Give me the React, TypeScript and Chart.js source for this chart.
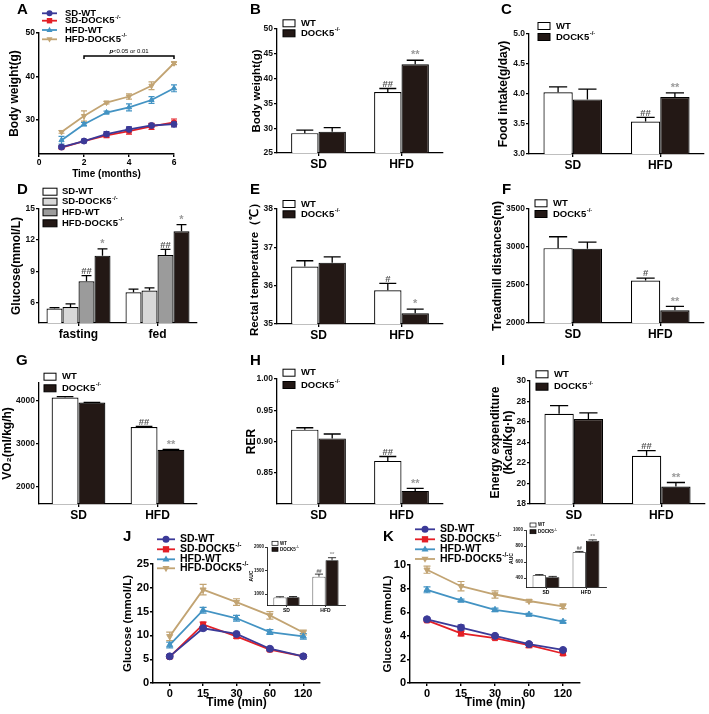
import React, { useEffect, useRef } from "react";
import { Chart, registerables } from "chart.js";

Chart.register(...registerables);

const FONT = "'Liberation Sans', Arial, Helvetica, sans-serif";
Chart.defaults.font.family = FONT;
Chart.defaults.color = "#000";

// ===================== DATA =====================
const groupNames = ["SD-WT", "SD-DOCK5^-/-", "HFD-WT", "HFD-DOCK5^-/-"];
const genotypeNames = ["WT", "DOCK5^-/-"];
const dietLabels = ["SD", "HFD"];
const stateLabels = ["fasting", "fed"];

// A: body weight over time
const aMonths = [1, 2, 3, 4, 5, 6];
const aSdWt = [23.6, 25.0, 26.6, 27.7, 28.6, 28.9];
const aSdWtErr = [0.3, 0.4, 0.6, 0.6, 0.4, 0.6];
const aSdKo = [23.5, 25.0, 26.3, 27.3, 28.4, 29.3];
const aSdKoErr = [0.3, 0.3, 0.5, 0.7, 0.7, 0.8];
const aHfdWt = [25.2, 28.9, 31.6, 32.8, 34.5, 37.2];
const aHfdWtErr = [0.9, 0.4, 0.3, 0.8, 0.8, 0.8];
const aHfdKo = [27.1, 30.8, 33.9, 35.3, 37.8, 43.0];
const aHfdKoErr = [0.3, 1.2, 0.3, 0.6, 0.9, 0.3];
const aYTicks = [30, 40, 50];
const aSigFrom = 2;
const aSigTo = 6;
const aSigLevel = 44.7;

// B: body weight
const bWt = [29.0, 37.3];
const bWtErr = [0.6, 0.7];
const bKo = [29.3, 42.9];
const bKoErr = [0.8, 0.8];
const bTicks = [25, 30, 35, 40, 45, 50];

// C: food intake
const cWt = [4.03, 3.54];
const cWtErr = [0.09, 0.07];
const cKo = [3.91, 3.95];
const cKoErr = [0.17, 0.07];
const cTicks = [3.0, 3.5, 4.0, 4.5, 5.0];

// D: glucose
const dSdWt = [5.4, 6.97];
const dSdWtErr = [0.08, 0.3];
const dSdKo = [5.55, 7.13];
const dSdKoErr = [0.3, 0.26];
const dHfdWt = [8.03, 10.55];
const dHfdWtErr = [0.55, 0.55];
const dHfdKo = [10.5, 12.85];
const dHfdKoErr = [0.65, 0.65];
const dTicks = [6, 9, 12, 15];

// E: rectal temperature
const eWt = [36.5, 35.88];
const eWtErr = [0.15, 0.18];
const eKo = [36.6, 35.28];
const eKoErr = [0.15, 0.11];
const eTicks = [35, 36, 37, 38];

// F: treadmill
const fWt = [2985, 2560];
const fWtErr = [150, 30];
const fKo = [2978, 2167];
const fKoErr = [85, 52];
const fTicks = [2000, 2500, 3000, 3500];

// G: VO2
const gWt = [4062, 3383];
const gWtErr = [25, 10];
const gKo = [3947, 2855];
const gKoErr = [6, 6];
const gTicks = [2000, 3000, 4000];

// H: RER
const hWt = [0.919, 0.869];
const hWtErr = [0.003, 0.007];
const hKo = [0.905, 0.821];
const hKoErr = [0.007, 0.004];
const hTicks = [0.85, 0.9, 0.95, 1.0];

// I: energy expenditure
const iWt = [26.8, 22.7];
const iWtErr = [0.8, 0.5];
const iKo = [26.3, 19.7];
const iKoErr = [0.6, 0.4];
const iTicks = [18, 20, 22, 24, 26, 28, 30];

// J: GTT
const timeLabels = ["0", "15", "30", "60", "120"];
const jSdWt = [5.6, 11.5, 10.3, 7.2, 5.6];
const jSdWtErr = [0.3, 0.4, 0.3, 0.3, 0.3];
const jSdKo = [5.5, 12.3, 9.8, 7.0, 5.6];
const jSdKoErr = [0.3, 0.5, 0.4, 0.3, 0.3];
const jHfdWt = [8.0, 15.3, 13.6, 10.7, 9.8];
const jHfdWtErr = [0.6, 0.6, 0.6, 0.5, 0.6];
const jHfdKo = [9.8, 19.6, 17.0, 14.2, 10.6];
const jHfdKoErr = [0.9, 1.1, 0.7, 0.8, 0.5];
const jTicks = [0, 5, 10, 15, 20, 25];
// J inset AUC
const jiWt = [930, 1370];
const jiWtErr = [15, 55];
const jiKo = [935, 1718];
const jiKoErr = [15, 55];
const jiTicks = [1000, 1500, 2000];

// K: ITT
const kSdWt = [5.4, 4.7, 4.0, 3.3, 2.8];
const kSdWtErr = [0.1, 0.2, 0.1, 0.1, 0.1];
const kSdKo = [5.3, 4.2, 3.8, 3.2, 2.5];
const kSdKoErr = [0.1, 0.2, 0.1, 0.2, 0.15];
const kHfdWt = [7.9, 7.0, 6.2, 5.8, 5.2];
const kHfdWtErr = [0.25, 0.1, 0.15, 0.1, 0.1];
const kHfdKo = [9.6, 8.2, 7.5, 6.95, 6.5];
const kHfdKoErr = [0.3, 0.4, 0.3, 0.1, 0.2];
const kTicks = [0, 2, 4, 6, 8, 10];
// K inset AUC
const kiWt = [437, 723];
const kiWtErr = [8, 10];
const kiKo = [412, 867];
const kiKoErr = [10, 10];
const kiTicks = [400, 600, 800, 1000];

// ===================== STYLE =====================
const BLACK = "#231815";
const WHITE = "#ffffff";
const LIGHT = "#d8d8d8";
const GRAY = "#9b9b9b";
const C_SDWT = "#3b3a98";
const C_SDKO = "#e41f26";
const C_HFDWT = "#4393c3";
const C_HFDKO = "#c2a473";
const HASH = "#555555";
const STAR = "#9a9a9a";

type Box = { l: number; t: number; w: number; h: number };
type Area = [number, number, number, number];

function layoutFor(box: Box, area: Area) {
  const [x0, y0, x1, y1] = area;
  return {
    padding: { left: 0, top: y0 - box.t, right: box.l + box.w - x1, bottom: 0 },
    yW: x0 - box.l,
    xH: box.t + box.h - y1,
  };
}

function rich(ctx: any, text: string, x: number, y: number, size: number, color: string, align = "left") {
  const [main, sup] = text.split("^");
  ctx.save();
  ctx.fillStyle = color;
  ctx.textBaseline = "middle";
  ctx.textAlign = "left";
  ctx.font = `bold ${size}px ${FONT}`;
  const w1 = ctx.measureText(main).width;
  ctx.font = `bold ${size * 0.62}px ${FONT}`;
  const w2 = sup ? ctx.measureText(sup).width : 0;
  const sx = align === "center" ? x - (w1 + w2) / 2 : x;
  ctx.font = `bold ${size}px ${FONT}`;
  ctx.fillText(main, sx, y);
  if (sup) {
    ctx.font = `bold ${size * 0.62}px ${FONT}`;
    ctx.fillText(sup, sx + w1 + 0.5, y - size * 0.38);
  }
  ctx.restore();
}

function marker(ctx: any, style: string, x: number, y: number, r: number, color: string) {
  ctx.save();
  ctx.fillStyle = color;
  ctx.beginPath();
  if (style === "circle") ctx.arc(x, y, r, 0, Math.PI * 2);
  else if (style === "rect") ctx.rect(x - r * 0.9, y - r * 0.9, r * 1.8, r * 1.8);
  else if (style === "triangle") {
    ctx.moveTo(x, y - r * 1.1);
    ctx.lineTo(x + r, y + r * 0.65);
    ctx.lineTo(x - r, y + r * 0.65);
    ctx.closePath();
  } else {
    ctx.moveTo(x, y + r * 1.1);
    ctx.lineTo(x + r, y - r * 0.65);
    ctx.lineTo(x - r, y - r * 0.65);
    ctx.closePath();
  }
  ctx.fill();
  ctx.restore();
}

type LegendItem = { name: string; color: string; style?: string };
type Legend = {
  kind: string;
  x: number;
  w: number;
  h?: number;
  rows: number[];
  textX: number;
  size: number;
  items: LegendItem[];
  r?: number;
  bw?: number;
};
type Note = { ds: number; i: number; t: string; c: string; s: number };
type Decor = {
  box: Box;
  letter?: { t: string; x: number; y: number; s?: number };
  legend?: Legend;
  errs: number[][];
  lineErr?: boolean;
  cap?: number;
  capRatio?: number;
  errW?: number;
  notes?: Note[];
  extra?: (chart: any) => void;
};

function valOf(v: any) {
  return typeof v === "number" ? v : v.y;
}

function drawErr(chart: any, o: Decor) {
  const ctx = chart.ctx;
  const ys = chart.scales.y;
  o.errs.forEach((errs, di) => {
    if (!errs) return;
    const meta = chart.getDatasetMeta(di);
    const ds = chart.data.datasets[di];
    meta.data.forEach((el: any, i: number) => {
      const v = valOf(ds.data[i]);
      const e = errs[i];
      if (!e) return;
      const yTop = ys.getPixelForValue(v + e);
      const yBot = o.lineErr ? ys.getPixelForValue(v - e) : el.y;
      const cap = o.lineErr ? o.cap || 6 : el.width * (o.capRatio || 0.6);
      ctx.save();
      ctx.strokeStyle = o.lineErr ? ds.borderColor : "#000";
      ctx.lineWidth = o.errW || 1.3;
      ctx.beginPath();
      ctx.moveTo(el.x, yBot);
      ctx.lineTo(el.x, yTop);
      ctx.moveTo(el.x - cap / 2, yTop);
      ctx.lineTo(el.x + cap / 2, yTop);
      if (o.lineErr) {
        ctx.moveTo(el.x - cap / 2, yBot);
        ctx.lineTo(el.x + cap / 2, yBot);
      }
      ctx.stroke();
      ctx.restore();
    });
  });
}

function makeDecor(o: Decor) {
  return {
    id: "decor",
    beforeDatasetsDraw(chart: any) {
      if (o.lineErr) drawErr(chart, o);
    },
    afterDatasetsDraw(chart: any) {
      const ctx = chart.ctx;
      if (!o.lineErr) drawErr(chart, o);
      const { l, t } = o.box;
      if (o.notes) {
        const ys = chart.scales.y;
        o.notes.forEach((n) => {
          const el = chart.getDatasetMeta(n.ds).data[n.i];
          const v = valOf(chart.data.datasets[n.ds].data[n.i]);
          const e = (o.errs[n.ds] || [])[n.i] || 0;
          const y = ys.getPixelForValue(v + e) - 1;
          ctx.save();
          ctx.fillStyle = n.c;
          ctx.font = `bold ${n.s}px ${FONT}`;
          ctx.textAlign = "center";
          ctx.textBaseline = "bottom";
          ctx.fillText(n.t, el.x, y + n.s * 0.15);
          ctx.restore();
        });
      }
      if (o.legend) {
        const L = o.legend;
        L.items.forEach((it, k) => {
          const y = L.rows[k] - t;
          const x = L.x - l;
          ctx.save();
          if (L.kind === "box") {
            const h = L.h || 7;
            ctx.fillStyle = it.color;
            ctx.fillRect(x, y - h / 2, L.w, h);
            ctx.strokeStyle = "#000";
            ctx.lineWidth = L.bw || 1;
            ctx.strokeRect(x, y - h / 2, L.w, h);
          } else {
            ctx.strokeStyle = it.color;
            ctx.lineWidth = 1.8;
            ctx.beginPath();
            ctx.moveTo(x, y);
            ctx.lineTo(x + L.w, y);
            ctx.stroke();
            marker(ctx, it.style || "circle", x + L.w / 2, y, L.r || 3.2, it.color);
          }
          ctx.restore();
          rich(ctx, it.name, L.textX - l, y, L.size, "#000");
        });
      }
      if (o.letter) {
        ctx.save();
        ctx.fillStyle = "#000";
        ctx.font = `bold ${o.letter.s || 15}px ${FONT}`;
        ctx.textAlign = "left";
        ctx.textBaseline = "middle";
        ctx.fillText(o.letter.t, o.letter.x - l, o.letter.y - t);
        ctx.restore();
      }
      if (o.extra) o.extra(chart);
    },
  };
}

function axisCommon(lw: number, tl: number) {
  return {
    border: { display: true, color: "#000", width: lw },
    grid: {
      display: true,
      drawOnChartArea: false,
      drawTicks: true,
      tickLength: tl,
      color: "#000",
      lineWidth: lw,
    },
  };
}

type Series = { name: string; data: number[]; err: number[]; fill: string };
type BarP = {
  box: Box;
  area: Area;
  labels: string[];
  series: Series[];
  min: number;
  max: number;
  ticks: number[];
  fmt?: (v: number) => string;
  yTitle: any;
  titleX: number;
  titleFont?: number;
  titleLH?: number;
  tickFont?: number;
  catFont?: number;
  catPct: number;
  legend: Legend;
  letter?: { t: string; x: number; y: number; s?: number };
  notes: Note[];
  bw?: number;
  lw?: number;
  tl?: number;
  capRatio?: number;
  errW?: number;
};

function makeBar(p: BarP) {
  const L = layoutFor(p.box, p.area);
  const tf = p.titleFont || 12;
  const tlh = p.titleLH || 1.2;
  const lw = p.lw || 1.3;
  const tl = p.tl || 3;
  const ac = axisCommon(lw, tl);
  return {
    type: "bar",
    data: {
      labels: p.labels,
      datasets: p.series.map((s) => ({
        label: s.name,
        data: s.data,
        backgroundColor: s.fill,
        borderColor: "#000",
        borderWidth: p.bw || 1.2,
        barPercentage: 1,
        categoryPercentage: p.catPct,
      })),
    },
    options: {
      responsive: false,
      animation: false,
      devicePixelRatio: 1,
      layout: { padding: L.padding },
      plugins: { legend: { display: false }, tooltip: { enabled: false } },
      scales: {
        x: {
          type: "category",
          offset: true,
          afterFit: (s: any) => {
            s.height = L.xH;
          },
          border: ac.border,
          grid: { ...ac.grid, offset: false },
          ticks: {
            font: { size: p.catFont || 12, weight: "bold" },
            color: "#000",
            padding: 1,
            maxRotation: 0,
            autoSkip: false,
          },
        },
        y: {
          type: "linear",
          min: p.min,
          max: p.max,
          afterBuildTicks: (s: any) => {
            s.ticks = p.ticks.map((v) => ({ value: v }));
          },
          afterFit: (s: any) => {
            s.width = L.yW;
          },
          border: ac.border,
          grid: ac.grid,
          ticks: {
            font: { size: p.tickFont || 8.5, weight: "bold" },
            color: "#111",
            padding: 1,
            callback: (v: any) => (p.fmt ? p.fmt(Number(v)) : String(v)),
          },
          title: {
            display: true,
            text: p.yTitle,
            font: { size: tf, weight: "bold", lineHeight: tlh },
            color: "#000",
            padding: { top: p.titleX - p.box.l - (tf * tlh) / 2, bottom: 0 },
          },
        },
      },
    },
    plugins: [
      makeDecor({
        box: p.box,
        letter: p.letter,
        legend: p.legend,
        errs: p.series.map((s) => s.err),
        capRatio: p.capRatio || 0.62,
        errW: p.errW || 1.3,
        notes: p.notes,
      }),
    ],
  };
}

type LSeries = { name: string; data: number[]; err: number[]; color: string; style: string };
type LineP = {
  box: Box;
  area: Area;
  linear: boolean;
  xs?: number[];
  labels?: string[];
  xMin?: number;
  xMax?: number;
  xStep?: number;
  series: LSeries[];
  min: number;
  max: number;
  ticks: number[];
  yTitle: string;
  titleX: number;
  titleFont: number;
  xTitle: string;
  xTitleY: number;
  xTitleFont: number;
  tickFont: number;
  legend: Legend;
  letter: { t: string; x: number; y: number; s?: number };
  pr: number;
  lw: number;
  cap: number;
  tl: number;
  extra?: (chart: any) => void;
};

function makeLine(p: LineP) {
  const L = layoutFor(p.box, p.area);
  const ac = axisCommon(1.4, p.tl);
  const xScale: any = p.linear
    ? {
        type: "linear",
        min: p.xMin,
        max: p.xMax,
        ticks: { stepSize: p.xStep, font: { size: p.tickFont, weight: "bold" }, color: "#000", padding: 1 },
        grid: ac.grid,
      }
    : {
        type: "category",
        offset: true,
        grid: { ...ac.grid, offset: false },
        ticks: { font: { size: p.tickFont, weight: "bold" }, color: "#000", padding: 1, autoSkip: false, maxRotation: 0 },
      };
  const xlh = p.xTitleFont * 1.2;
  return {
    type: "line",
    data: {
      labels: p.linear ? undefined : p.labels,
      datasets: p.series.map((s) => ({
        label: s.name,
        data: p.linear ? (p.xs || []).map((x, i) => ({ x, y: s.data[i] })) : s.data,
        borderColor: s.color,
        backgroundColor: s.color,
        pointBackgroundColor: s.color,
        pointBorderColor: s.color,
        borderWidth: p.lw,
        pointStyle: s.style === "tridown" ? "triangle" : s.style,
        pointRotation: s.style === "tridown" ? 180 : 0,
        pointRadius: p.pr,
        pointBorderWidth: 1,
        tension: 0,
        clip: false,
      })),
    },
    options: {
      responsive: false,
      animation: false,
      devicePixelRatio: 1,
      layout: { padding: L.padding },
      plugins: { legend: { display: false }, tooltip: { enabled: false } },
      scales: {
        x: {
          ...xScale,
          afterFit: (s: any) => {
            s.height = L.xH;
          },
          border: ac.border,
          title: {
            display: true,
            text: p.xTitle,
            font: { size: p.xTitleFont, weight: "bold" },
            color: "#000",
            padding: { top: 0, bottom: Math.max(0, p.box.t + p.box.h - p.xTitleY - xlh / 2) },
          },
        },
        y: {
          type: "linear",
          min: p.min,
          max: p.max,
          afterBuildTicks: (s: any) => {
            s.ticks = p.ticks.map((v) => ({ value: v }));
          },
          afterFit: (s: any) => {
            s.width = L.yW;
          },
          border: ac.border,
          grid: ac.grid,
          ticks: { font: { size: p.tickFont, weight: "bold" }, color: "#000", padding: 1, callback: (v: any) => String(v) },
          title: {
            display: true,
            text: p.yTitle,
            font: { size: p.titleFont, weight: "bold" },
            color: "#000",
            padding: { top: p.titleX - p.box.l - (p.titleFont * 1.2) / 2, bottom: 0 },
          },
        },
      },
    },
    plugins: [
      makeDecor({
        box: p.box,
        letter: p.letter,
        legend: p.legend,
        errs: p.series.map((s) => s.err),
        lineErr: true,
        cap: p.cap,
        errW: 1.2,
        extra: p.extra,
      }),
    ],
  };
}

// ===================== PANELS =====================
const boxes: Record<string, Box> = {
  A: { l: 0, t: 0, w: 236, h: 180 },
  B: { l: 236, t: 0, w: 234, h: 180 },
  C: { l: 470, t: 0, w: 239, h: 180 },
  D: { l: 0, t: 180, w: 236, h: 165 },
  E: { l: 236, t: 180, w: 234, h: 165 },
  F: { l: 470, t: 180, w: 239, h: 165 },
  G: { l: 0, t: 345, w: 236, h: 180 },
  H: { l: 236, t: 345, w: 234, h: 180 },
  I: { l: 470, t: 345, w: 239, h: 180 },
  J: { l: 100, t: 525, w: 260, h: 189 },
  K: { l: 360, t: 517, w: 260, h: 197 },
  Ji: { l: 240, t: 535, w: 115, h: 82 },
  Ki: { l: 500, t: 518, w: 110, h: 78 },
};

function geno(wt: number[], wtE: number[], ko: number[], koE: number[]): Series[] {
  return [
    { name: genotypeNames[0], data: wt, err: wtE, fill: WHITE },
    { name: genotypeNames[1], data: ko, err: koE, fill: BLACK },
  ];
}

function genoLegend(x: number, rows: number[], textX: number, size = 9.5, w = 12, h = 7, bw = 1): Legend {
  return {
    kind: "box",
    x,
    w,
    h,
    rows,
    textX,
    size,
    bw,
    items: [
      { name: genotypeNames[0], color: WHITE },
      { name: genotypeNames[1], color: BLACK },
    ],
  };
}

function hfdNotes(a: string, b: string, s = 9.5): Note[] {
  return [
    { ds: 0, i: 1, t: a, c: HASH, s },
    { ds: 1, i: 1, t: b, c: STAR, s: s + 1.5 },
  ];
}

function lineSeries(v: number[][], e: number[][]): LSeries[] {
  const cols = [C_SDWT, C_SDKO, C_HFDWT, C_HFDKO];
  const styles = ["circle", "rect", "triangle", "tridown"];
  return groupNames.map((n, k) => ({ name: n, data: v[k], err: e[k], color: cols[k], style: styles[k] }));
}

function lineLegend(x: number, w: number, rows: number[], textX: number, size: number, r: number): Legend {
  const cols = [C_SDWT, C_SDKO, C_HFDWT, C_HFDKO];
  const styles = ["circle", "rect", "triangle", "tridown"];
  return {
    kind: "line",
    x,
    w,
    rows,
    textX,
    size,
    r,
    items: groupNames.map((n, k) => ({ name: n, color: cols[k], style: styles[k] })),
  };
}

const sigBar = (chart: any) => {
  const ctx = chart.ctx;
  const xs = chart.scales.x;
  const ys = chart.scales.y;
  const x1 = xs.getPixelForValue(aSigFrom);
  const x2 = xs.getPixelForValue(aSigTo);
  const y = ys.getPixelForValue(aSigLevel);
  ctx.save();
  ctx.strokeStyle = "#000";
  ctx.lineWidth = 1.5;
  ctx.beginPath();
  ctx.moveTo(x1, y + 3);
  ctx.lineTo(x1, y);
  ctx.lineTo(x2, y);
  ctx.lineTo(x2, y + 3);
  ctx.stroke();
  ctx.fillStyle = "#000";
  ctx.textBaseline = "bottom";
  ctx.textAlign = "left";
  const s = 6;
  ctx.font = `italic bold ${s}px ${FONT}`;
  const wp = ctx.measureText("p").width;
  ctx.font = `${s}px ${FONT}`;
  const rest = "<0.05 or 0.01";
  const wr = ctx.measureText(rest).width;
  const cx = (x1 + x2) / 2;
  const sx = cx - (wp + wr) / 2;
  ctx.font = `italic bold ${s}px ${FONT}`;
  ctx.fillText("p", sx, y - 1.5);
  ctx.font = `${s}px ${FONT}`;
  ctx.fillText(rest, sx + wp, y - 1.5);
  ctx.restore();
};

const configs: { key: string; make: () => any }[] = [
  {
    key: "A",
    make: () =>
      makeLine({
        box: boxes.A,
        area: [39, 33, 174, 154],
        linear: true,
        xs: aMonths,
        xMin: 0,
        xMax: 6,
        xStep: 2,
        series: lineSeries([aSdWt, aSdKo, aHfdWt, aHfdKo], [aSdWtErr, aSdKoErr, aHfdWtErr, aHfdKoErr]),
        min: 22,
        max: 50,
        ticks: aYTicks,
        yTitle: "Body weight(g)",
        titleX: 15,
        titleFont: 12,
        xTitle: "Time (months)",
        xTitleY: 175,
        xTitleFont: 10,
        tickFont: 8.5,
        legend: lineLegend(42, 15, [13.3, 20.7, 30, 39.3], 65, 9.5, 3),
        letter: { t: "A", x: 17, y: 10 },
        pr: 3,
        lw: 1.8,
        cap: 6,
        tl: 3,
        extra: sigBar,
      }),
  },
  {
    key: "B",
    make: () =>
      makeBar({
        box: boxes.B,
        area: [277, 29, 443, 153],
        labels: dietLabels,
        series: geno(bWt, bWtErr, bKo, bKoErr),
        min: 25,
        max: 50,
        ticks: bTicks,
        yTitle: "Body weight(g)",
        titleX: 257,
        titleFont: 11.5,
        catPct: 0.66,
        legend: genoLegend(283, [23.3, 33.3], 301),
        letter: { t: "B", x: 250, y: 10 },
        notes: hfdNotes("##", "**"),
      }),
  },
  {
    key: "C",
    make: () =>
      makeBar({
        box: boxes.C,
        area: [529, 34, 704, 154],
        labels: dietLabels,
        series: geno(cWt, cWtErr, cKo, cKoErr),
        min: 3,
        max: 5,
        ticks: cTicks,
        fmt: (v) => v.toFixed(1),
        yTitle: "Food intake(g/day)",
        titleX: 504,
        catPct: 0.67,
        legend: genoLegend(538, [26, 37], 556),
        letter: { t: "C", x: 501, y: 10 },
        notes: hfdNotes("##", "**"),
      }),
  },
  {
    key: "D",
    make: () =>
      makeBar({
        box: boxes.D,
        area: [39, 209, 197, 323],
        labels: stateLabels,
        series: [
          { name: groupNames[0], data: dSdWt, err: dSdWtErr, fill: WHITE },
          { name: groupNames[1], data: dSdKo, err: dSdKoErr, fill: LIGHT },
          { name: groupNames[2], data: dHfdWt, err: dHfdWtErr, fill: GRAY },
          { name: groupNames[3], data: dHfdKo, err: dHfdKoErr, fill: BLACK },
        ],
        min: 4,
        max: 15,
        ticks: dTicks,
        yTitle: "Glucose(mmol/L)",
        titleX: 17,
        catPct: 0.81,
        legend: {
          kind: "box",
          x: 43,
          w: 14,
          h: 7,
          rows: [191.7, 201.7, 212.3, 223.3],
          textX: 62,
          size: 9.5,
          items: [
            { name: groupNames[0], color: WHITE },
            { name: groupNames[1], color: LIGHT },
            { name: groupNames[2], color: GRAY },
            { name: groupNames[3], color: BLACK },
          ],
        },
        letter: { t: "D", x: 17, y: 190 },
        notes: [
          { ds: 2, i: 0, t: "##", c: HASH, s: 9.5 },
          { ds: 3, i: 0, t: "*", c: STAR, s: 11 },
          { ds: 2, i: 1, t: "##", c: HASH, s: 9.5 },
          { ds: 3, i: 1, t: "*", c: STAR, s: 11 },
        ],
      }),
  },
  {
    key: "E",
    make: () =>
      makeBar({
        box: boxes.E,
        area: [277, 209, 443, 324],
        labels: dietLabels,
        series: geno(eWt, eWtErr, eKo, eKoErr),
        min: 35,
        max: 38,
        ticks: eTicks,
        yTitle: "Rectal temperature（℃）",
        titleX: 255,
        titleFont: 11.5,
        catPct: 0.66,
        legend: genoLegend(283, [204, 214.3], 301),
        letter: { t: "E", x: 250, y: 190 },
        notes: hfdNotes("#", "*"),
      }),
  },
  {
    key: "F",
    make: () =>
      makeBar({
        box: boxes.F,
        area: [529, 209, 704, 323],
        labels: dietLabels,
        series: geno(fWt, fWtErr, fKo, fKoErr),
        min: 2000,
        max: 3500,
        ticks: fTicks,
        yTitle: "Treadmill distances(m)",
        titleX: 497.5,
        catPct: 0.67,
        legend: genoLegend(535, [203.3, 214], 553),
        letter: { t: "F", x: 502, y: 190 },
        notes: hfdNotes("#", "**"),
      }),
  },
  {
    key: "G",
    make: () =>
      makeBar({
        box: boxes.G,
        area: [39, 383, 197, 504],
        labels: dietLabels,
        series: geno(gWt, gWtErr, gKo, gKoErr),
        min: 1600,
        max: 4400,
        ticks: gTicks,
        yTitle: "VO₂(ml/kg/h)",
        titleX: 8,
        catPct: 0.68,
        legend: genoLegend(44, [376.7, 388.3], 62),
        letter: { t: "G", x: 16, y: 361 },
        notes: hfdNotes("##", "**"),
      }),
  },
  {
    key: "H",
    make: () =>
      makeBar({
        box: boxes.H,
        area: [277, 379, 443, 504],
        labels: dietLabels,
        series: geno(hWt, hWtErr, hKo, hKoErr),
        min: 0.8,
        max: 1.0,
        ticks: hTicks,
        fmt: (v) => v.toFixed(2),
        yTitle: "RER",
        titleX: 252,
        catPct: 0.66,
        legend: genoLegend(283, [372.7, 385], 301),
        letter: { t: "H", x: 250, y: 361 },
        notes: hfdNotes("##", "**"),
      }),
  },
  {
    key: "I",
    make: () =>
      makeBar({
        box: boxes.I,
        area: [530, 381, 705, 504],
        labels: dietLabels,
        series: geno(iWt, iWtErr, iKo, iKoErr),
        min: 18,
        max: 30,
        ticks: iTicks,
        yTitle: ["Energy expenditure", "(Kcal/Kg·h)"],
        titleX: 496,
        titleLH: 1.05,
        catPct: 0.67,
        legend: genoLegend(536, [374.3, 386.7], 554),
        letter: { t: "I", x: 501, y: 361 },
        notes: hfdNotes("##", "**"),
      }),
  },
  {
    key: "J",
    make: () =>
      makeLine({
        box: boxes.J,
        area: [153, 564, 320, 683],
        linear: false,
        labels: timeLabels,
        series: lineSeries([jSdWt, jSdKo, jHfdWt, jHfdKo], [jSdWtErr, jSdKoErr, jHfdWtErr, jHfdKoErr]),
        min: 0,
        max: 25,
        ticks: jTicks,
        yTitle: "Glucose (mmol/L)",
        titleX: 127.5,
        titleFont: 11.5,
        xTitle: "Time (min)",
        xTitleY: 703,
        xTitleFont: 12,
        tickFont: 11,
        legend: lineLegend(157, 18, [539.3, 549.3, 559.3, 568.3], 180, 10.5, 3.5),
        letter: { t: "J", x: 123, y: 537 },
        pr: 3.5,
        lw: 1.8,
        cap: 7,
        tl: 3,
      }),
  },
  {
    key: "K",
    make: () =>
      makeLine({
        box: boxes.K,
        area: [410, 565, 580, 683],
        linear: false,
        labels: timeLabels,
        series: lineSeries([kSdWt, kSdKo, kHfdWt, kHfdKo], [kSdWtErr, kSdKoErr, kHfdWtErr, kHfdKoErr]),
        min: 0,
        max: 10,
        ticks: kTicks,
        yTitle: "Glucose (mmol/L)",
        titleX: 387.5,
        titleFont: 11.5,
        xTitle: "Time (min)",
        xTitleY: 703,
        xTitleFont: 12,
        tickFont: 11,
        legend: lineLegend(415, 20, [529.3, 539.3, 549.3, 559], 440, 10.5, 3.5),
        letter: { t: "K", x: 383, y: 537 },
        pr: 3.5,
        lw: 1.8,
        cap: 7,
        tl: 3,
      }),
  },
  {
    key: "Ji",
    make: () =>
      makeBar({
        box: boxes.Ji,
        area: [267, 547, 345, 605],
        labels: dietLabels,
        series: geno(jiWt, jiWtErr, jiKo, jiKoErr),
        min: 770,
        max: 2000,
        ticks: jiTicks,
        yTitle: "AUC",
        titleX: 252,
        titleFont: 5,
        tickFont: 4.5,
        catFont: 5,
        catPct: 0.67,
        legend: genoLegend(272, [543.3, 549.3], 280, 4.5, 6, 4, 0.7),
        notes: hfdNotes("##", "**", 4.5),
        bw: 0.8,
        lw: 0.8,
        tl: 2,
        errW: 0.8,
      }),
  },
  {
    key: "Ki",
    make: () =>
      makeBar({
        box: boxes.Ki,
        area: [526, 530, 606, 587],
        labels: dietLabels,
        series: geno(kiWt, kiWtErr, kiKo, kiKoErr),
        min: 290,
        max: 1000,
        ticks: kiTicks,
        yTitle: "AUC",
        titleX: 512,
        titleFont: 5,
        tickFont: 4.5,
        catFont: 5,
        catPct: 0.67,
        legend: genoLegend(530, [525, 531.7], 538, 4.5, 6, 4, 0.7),
        notes: hfdNotes("##", "**", 4.5),
        bw: 0.8,
        lw: 0.8,
        tl: 2,
        errW: 0.8,
      }),
  },
];

function ChartBox({ box, make }: { box: Box; make: () => any }) {
  const ref = useRef<HTMLCanvasElement | null>(null);
  useEffect(() => {
    if (!ref.current) return;
    const chart = new Chart(ref.current, make());
    return () => chart.destroy();
  }, []);
  return (
    <canvas
      ref={ref}
      width={box.w}
      height={box.h}
      style={{ position: "absolute", left: box.l, top: box.t, width: box.w, height: box.h }}
    />
  );
}

export default function App() {
  return (
    <div style={{ position: "absolute", left: 0, top: 0, width: 709, height: 714, background: "#fff", overflow: "hidden" }}>
      {configs.map((c) => (
        <ChartBox key={c.key} box={boxes[c.key]} make={c.make} />
      ))}
    </div>
  );
}
